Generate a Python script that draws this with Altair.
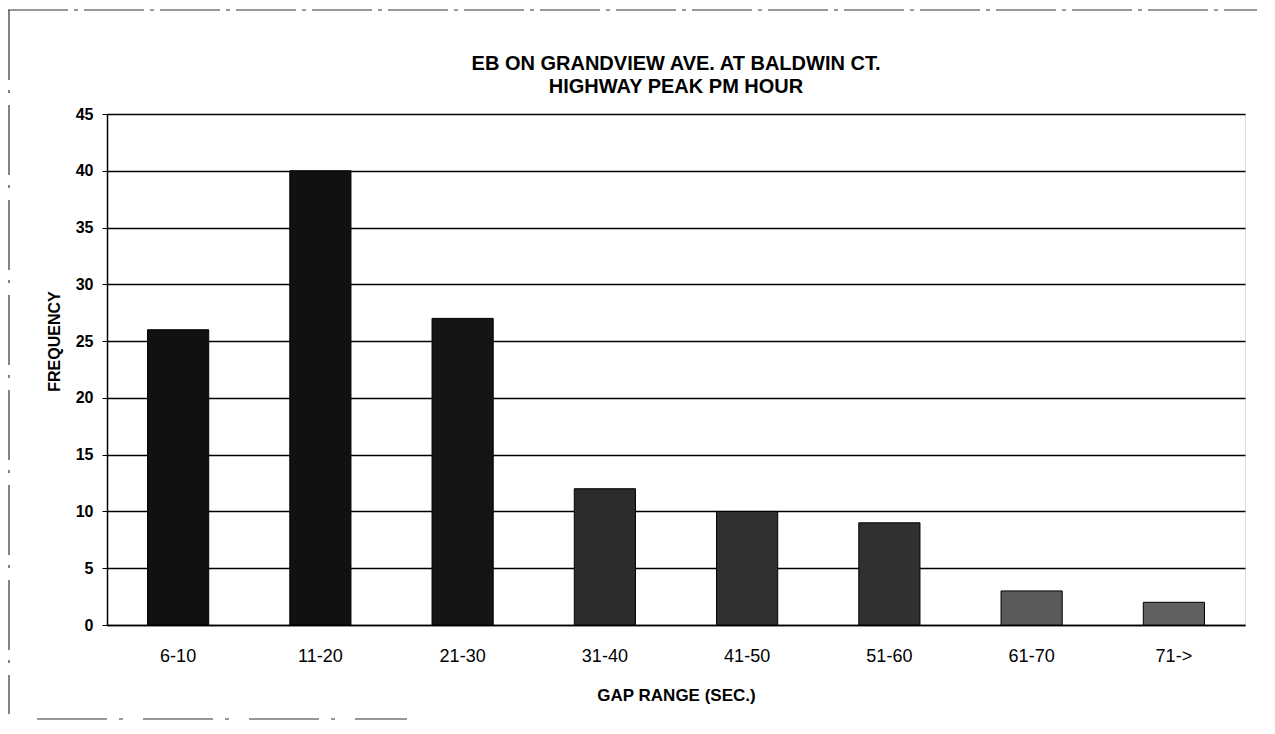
import altair as alt
import pandas as pd

# ---- data ----
categories = ["6-10", "11-20", "21-30", "31-40", "41-50", "51-60", "61-70", "71->"]
frequency = [26, 40, 27, 12, 10, 9, 3, 2]
title_line1 = "EB ON GRANDVIEW AVE. AT BALDWIN CT."
title_line2 = "HIGHWAY PEAK PM HOUR"
y_ticks = [0, 5, 10, 15, 20, 25, 30, 35, 40, 45]

# ---- styles ----
bar_colors = ["#111111", "#111111", "#141414", "#2c2c2c", "#303030", "#303030", "#5a5a5a", "#606060"]
FONT = "Liberation Sans"

df = pd.DataFrame({"gap": categories, "freq": frequency})

bars = alt.Chart(df).mark_bar(stroke="black", strokeWidth=1).encode(
    x=alt.X(
        "gap:N",
        sort=categories,
        scale=alt.Scale(paddingInner=0.57, paddingOuter=0.285),
        axis=alt.Axis(
            title="GAP RANGE (SEC.)",
            labelAngle=0,
            ticks=False,
            tickSize=0,
            labelPadding=22,
            labelFontSize=18,
            labelFont=FONT,
            labelColor="black",
            domainColor="black",
            domainWidth=1.5,
            titleFont=FONT,
            titleFontSize=17,
            titleFontWeight="bold",
            titleColor="black",
            titleY=70,
            titleBaseline="middle",
        ),
    ),
    y=alt.Y(
        "freq:Q",
        scale=alt.Scale(domain=[0, 45], nice=False),
        axis=alt.Axis(
            title="FREQUENCY",
            values=y_ticks,
            grid=True,
            gridColor="black",
            gridWidth=1.5,
            domainColor="black",
            domainWidth=1.5,
            tickColor="black",
            tickSize=5,
            labelPadding=9,
            labelFont=FONT,
            labelFontSize=16,
            labelFontWeight="bold",
            labelColor="black",
            titleFont=FONT,
            titleFontSize=16,
            titleFontWeight="bold",
            titleColor="black",
            titleX=-53,
            titleY=227,
            titleBaseline="middle",
            titleAlign="center",
        ),
    ),
    color=alt.Color("gap:N", scale=alt.Scale(domain=categories, range=bar_colors), legend=None),
)

one = pd.DataFrame({"k": [0]})
title_style = dict(font=FONT, fontSize=20, fontWeight="bold", color="black", align="center", baseline="alphabetic")
title1 = alt.Chart(one).mark_text(text=title_line1, **title_style).encode(
    x=alt.value(569), y=alt.value(-44)
)
title2 = alt.Chart(one).mark_text(text=title_line2, **title_style).encode(
    x=alt.value(569), y=alt.value(-21)
)

frame_style = dict(color="#333333", strokeWidth=1.2)
frame_top = alt.Chart(one).mark_rule(strokeDash=[60, 6, 4, 6], **frame_style).encode(
    x=alt.value(-99), x2=alt.value(1150), y=alt.value(-104)
)
frame_left = alt.Chart(one).mark_rule(strokeDash=[70, 10, 3, 12], **frame_style).encode(
    x=alt.value(-98), y=alt.value(-104), y2=alt.value(600)
)
frame_bottom = alt.Chart(one).mark_rule(strokeDash=[70, 12, 4, 20], **frame_style).encode(
    x=alt.value(-70), x2=alt.value(300), y=alt.value(605)
)

chart = (
    alt.layer(frame_top, frame_left, frame_bottom, bars, title1, title2)
    .properties(
        width=1138,
        height=511,
        padding={"left": 99, "top": 106, "right": 14, "bottom": 101},
        autosize=alt.AutoSizeParams(type="none"),
    )
    .configure_view(stroke=None)
    .configure(font=FONT, background="white")
)

chart.save("out.html", embed_options={"renderer": "svg", "actions": False})
